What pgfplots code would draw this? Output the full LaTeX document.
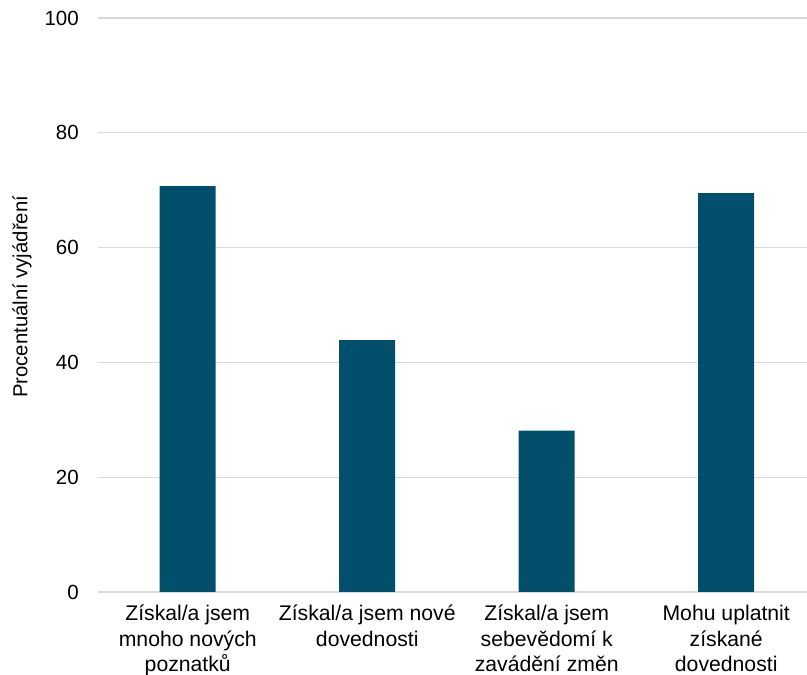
\documentclass[border=0pt]{standalone}
\usepackage{fontspec}
\setmainfont{Liberation Sans}
\usepackage{pgfplots}
\pgfplotsset{compat=1.18}
\definecolor{barc}{RGB}{2,79,107}
\definecolor{gridc}{RGB}{217,217,217}
\begin{document}
\begin{tikzpicture}
\begin{axis}[
  name=ax,
  scale only axis,
  width=709pt, height=574pt,
  xmin=-0.5, xmax=3.45,
  ymin=0, ymax=100,
  ytick={0,20,40,60,80,100},
  xtick=data,
  xticklabels={{Získal/a jsem\\mnoho nových\\poznatků},{Získal/a jsem nové\\dovednosti},{Získal/a jsem\\sebevědomí k\\zavádění změn},{Mohu uplatnit\\získané\\dovednosti}},
  ymajorgrids,
  grid style={gridc, line width=1.3pt},
  axis line style={draw=none},
  major tick length=0pt,
  /pgf/number format/assume math mode=true,
  yticklabel style={font=\fontsize{20.5}{24}\selectfont, inner sep=0pt, xshift=-19pt},
  xticklabel style={font=\fontsize{21.2}{25.5}\selectfont, align=center, inner sep=0pt, yshift=-13pt},
  ylabel={Procentuální vyjádření},
  ylabel style={font=\fontsize{20.3}{24}\selectfont, anchor=center},
  every axis y label/.append style={at={(axis description cs:-0.1072,0.514)}},
  ybar, bar width=56pt,
]
\addplot[fill=barc, draw=none] coordinates {(0,70.7) (1,43.9) (2,28.1) (3,69.5)};
\end{axis}
\pgfresetboundingbox
\path ([shift={(-98pt,-83pt)}]ax.south west) rectangle ([shift={(0pt,18pt)}]ax.north east);
\end{tikzpicture}
\end{document}
